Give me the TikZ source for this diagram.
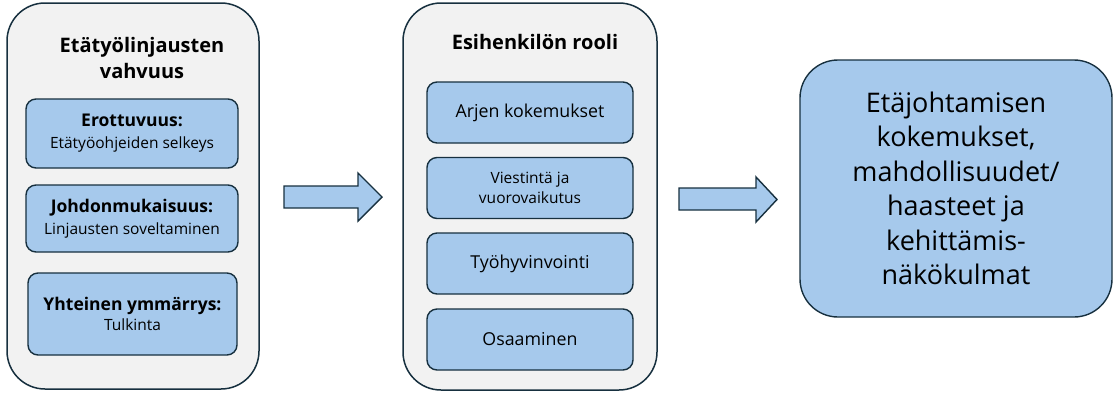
\documentclass[tikz,border=0pt]{standalone}
\usepackage{fontspec}
\setmainfont{Open Sans}
\usetikzlibrary{positioning,calc}
\definecolor{boxblue}{HTML}{A6C9EC}
\definecolor{edgenavy}{HTML}{17303F}
\definecolor{panelgrey}{HTML}{F2F2F2}

\tikzset{
  panel/.style={draw=edgenavy, line width=1.5pt, fill=panelgrey, rounded corners=38pt},
  paneltitle/.style={font=\bfseries\fontsize{20}{26.5}\selectfont, align=center},
  item/.style={draw=edgenavy, line width=1.4pt, fill=boxblue, rounded corners=10pt, align=center, font=\fontsize{15.5}{20}\selectfont},
  blockarrow/.style={draw=edgenavy, line width=1.4pt, fill=boxblue},
}
\newcommand{\itemhead}[1]{{\bfseries\fontsize{17.5}{20}\selectfont #1}}

\begin{document}
\begin{tikzpicture}[x=1pt,y=-1pt]
\useasboundingbox (0,0) rectangle (1114,392);
% left column
\node[panel, minimum width=252pt, minimum height=386pt] (leftpanel) at (133,196) {};
\node[paneltitle] (lefttitle) at (142,58) {Etätyölinjausten\\vahvuus};
\node[item, minimum width=212pt, minimum height=69pt] (erot) at (132,133.5) {\itemhead{Erottuvuus:}\\[2pt]Etätyöohjeiden selkeys};
\node[item, minimum width=212pt, minimum height=67pt] (johd) at (132,218.5) {\itemhead{Johdonmukaisuus:}\\[2pt]Linjausten soveltaminen};
\node[item, minimum width=209pt, minimum height=82pt] (yht) at (132.5,314) {\itemhead{Yhteinen ymmärrys:}\\Tulkinta};
% middle column
\node[panel, minimum width=254pt, minimum height=387pt] (midpanel) at (530,196.5) {};
\node[paneltitle] (midtitle) at (535,42) {Esihenkilön rooli};
\node[item, minimum width=206pt, minimum height=61pt, font=\fontsize{17.8}{20}\selectfont] (arki) at (530,112.5) {Arjen kokemukset};
\node[item, minimum width=206pt, minimum height=61pt] (viesti) at (530,188) {Viestintä ja\\vuorovaikutus};
\node[item, minimum width=206pt, minimum height=61pt, font=\fontsize{17.8}{20}\selectfont] (tyo) at (530,263.5) {Työhyvinvointi};
\node[item, minimum width=206pt, minimum height=61pt, font=\fontsize{17.8}{20}\selectfont] (osaa) at (530,339.5) {Osaaminen};
% result
\node[item, rounded corners=38pt, minimum width=312pt, minimum height=257pt, font=\fontsize{27}{34.5}\selectfont] (tulos) at (956,188.5) {Etäjohtamisen\\kokemukset,\\mahdollisuudet/\\haasteet ja\\kehittämis-\\näkökulmat};
% arrows
\draw[blockarrow] (284,186)--(358,186)--(358,173)--(382,197)--(358,221)--(358,208)--(284,208)--cycle;
\draw[blockarrow] (679,188)--(756,188)--(756,177)--(777,199.5)--(756,222)--(756,210)--(679,210)--cycle;
\end{tikzpicture}
\end{document}
